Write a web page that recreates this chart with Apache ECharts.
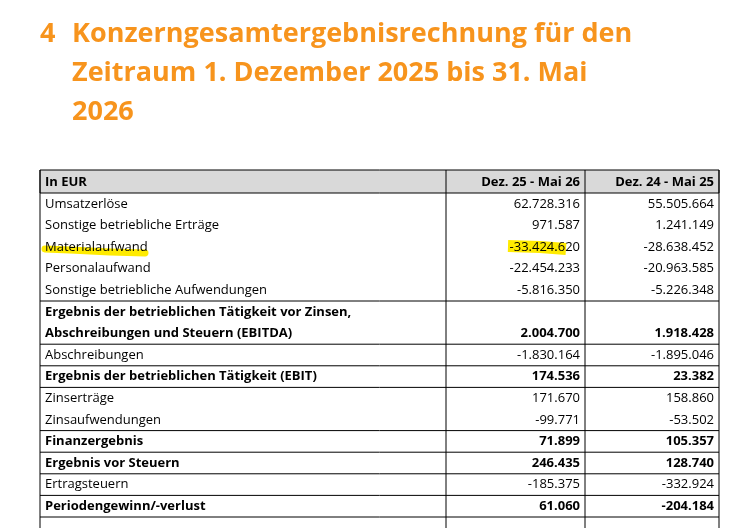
<!DOCTYPE html>
<html><head><meta charset="utf-8">
<script src="https://cdn.jsdelivr.net/npm/echarts@6/dist/echarts.min.js"></script>
<style>html,body{margin:0;padding:0;background:#fff}#c{width:744px;height:528px}</style>
</head><body><div id="c"></div>
<script>
const titleLines = ["Konzerngesamtergebnisrechnung für den", "Zeitraum 1. Dezember 2025 bis 31. Mai", "2026"];
const headers = ["In EUR", "Dez. 25 - Mai 26", "Dez. 24 - Mai 25"];
const labels = ["Umsatzerlöse","Sonstige betriebliche Erträge","Materialaufwand","Personalaufwand","Sonstige betriebliche Aufwendungen",
 "Ergebnis der betrieblichen Tätigkeit vor Zinsen,\nAbschreibungen und Steuern (EBITDA)","Abschreibungen","Ergebnis der betrieblichen Tätigkeit (EBIT)",
 "Zinserträge","Zinsaufwendungen","Finanzergebnis","Ergebnis vor Steuern","Ertragsteuern","Periodengewinn/-verlust",""];
const current = ["62.728.316","971.587","-33.424.620","-22.454.233","-5.816.350","2.004.700","-1.830.164","174.536","171.670","-99.771","71.899","246.435","-185.375","61.060",""];
const prior = ["55.505.664","1.241.149","-28.638.452","-20.963.585","-5.226.348","1.918.428","-1.895.046","23.382","158.860","-53.502","105.357","128.740","-332.924","-204.184",""];
const bold = [0,0,0,0,0,1,0,1,0,0,1,1,0,1,0];
const lineAfter = [0,0,0,0,1,1,1,1,0,1,1,1,1,1,0];

const chart = echarts.init(document.getElementById('c'));
const X0=40,X1=446,X2=585,X3=719, RH=21.6, HY0=170, HY1=193;
const F='"Open Sans", sans-serif';
const g=[];
g.push({type:'text',style:{x:40,y:34,text:'4',font:'bold 27px '+F,fill:'#F7941D',verticalAlign:'middle'}});
titleLines.forEach((t,i)=>g.push({type:'text',style:{x:72,y:34+i*39,text:t,font:'bold 27px '+F,fill:'#F7941D',verticalAlign:'middle'}}));
g.push({type:'rect',shape:{x:X0,y:HY0,width:X3-X0,height:HY1-HY0},style:{fill:'#D9D9D9',stroke:'#000',lineWidth:1}});
g.push({type:'text',style:{x:X0+5,y:(HY0+HY1)/2+1,text:headers[0],font:'bold 13px '+F,fill:'#000',verticalAlign:'middle'}});
g.push({type:'text',style:{x:X2-5,y:(HY0+HY1)/2+1,text:headers[1],font:'bold 13px '+F,fill:'#000',verticalAlign:'middle',align:'right'}});
g.push({type:'text',style:{x:X3-5,y:(HY0+HY1)/2+1,text:headers[2],font:'bold 13px '+F,fill:'#000',verticalAlign:'middle',align:'right'}});
let y=HY1;
const hl=[];
labels.forEach((l,i)=>{
  const two=l.indexOf('\n')>=0;
  const h=two?RH*2:RH;
  const fnt=(bold[i]?'bold ':'')+'13px '+F;
  if(two){
    l.split('\n').forEach((p,k)=>g.push({type:'text',style:{x:X0+5,y:y+RH*k+RH/2,text:p,font:fnt,fill:'#000',verticalAlign:'middle'}}));
  } else g.push({type:'text',style:{x:X0+5,y:y+h/2,text:l,font:fnt,fill:'#000',verticalAlign:'middle'}});
  const vy=two?y+RH*1.5:y+h/2;
  g.push({type:'text',style:{x:X2-5,y:vy,text:current[i],font:fnt,fill:'#000',verticalAlign:'middle',align:'right'}});
  g.push({type:'text',style:{x:X3-5,y:vy,text:prior[i],font:fnt,fill:'#000',verticalAlign:'middle',align:'right'}});
  if(l==='Materialaufwand') hl.push(y+h/2);
  y+=h;
  if(lineAfter[i]) g.push({type:'line',shape:{x1:X0,y1:y,x2:X3,y2:y},style:{stroke:'#000',lineWidth:1}});
});
[X0,X1,X2,X3].forEach(x=>g.push({type:'line',shape:{x1:x,y1:HY0,x2:x,y2:540},style:{stroke:'#000',lineWidth:1}}));
const hy=hl[0];
const Y='#FFEB00';
g.unshift({type:'polyline',shape:{points:[[45,hy+2],[70,hy+3],[110,hy+5],[145,hy+6]]},style:{stroke:Y,lineWidth:7,lineCap:'round',fill:null}});
g.unshift({type:'polyline',shape:{points:[[508,hy-1],[540,hy],[566,hy+2]]},style:{stroke:Y,lineWidth:12,lineCap:'butt',fill:null}});
chart.setOption({animation:false,graphic:{elements:g}});
</script></body></html>
